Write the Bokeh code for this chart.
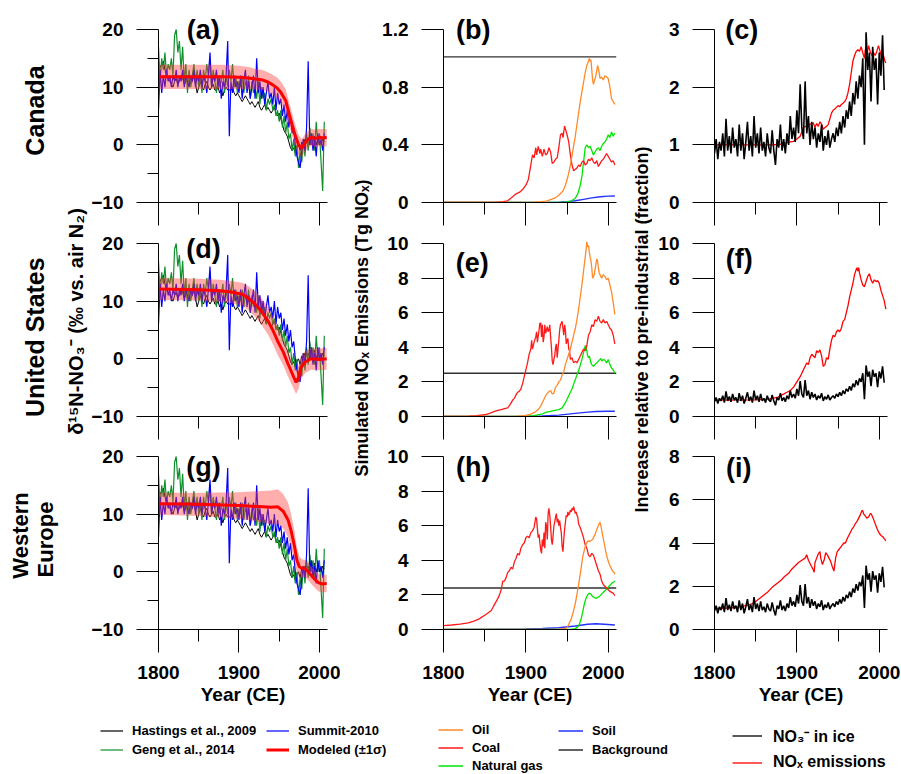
from bokeh.plotting import figure
from bokeh.layouts import row, column
from bokeh.models import Range1d, FixedTicker, Label, Legend, LegendItem, CustomJSTickFormatter
from bokeh.embed import file_html
from bokeh.resources import INLINE

FONT = "Liberation Sans"

# ---------------- data ----------------
ice_years = list(range(1800, 2008, 2))
hastings = [12.5, 13.5, 14.0, 14.5, 13.0,
            12.0, 11.5, 11.0, 10.5, 10.0,
            11.0, 11.5, 10.5, 11.0, 12.0,
            11.5, 10.5, 11.0, 12.0, 11.0,
            10.5, 11.0, 12.0, 10.5, 9.0,
            10.0, 11.0, 10.0, 9.5, 10.5,
            11.0, 10.0, 9.5, 10.0, 10.5,
            9.5, 9.5, 10.0, 9.0, 9.5,
            8.5, 9.5, 10.0, 9.5, 9.5,
            9.5, 10.0, 9.0, 8.5, 9.0,
            8.5, 8.0, 7.5, 8.0, 8.5,
            8.0, 7.5, 7.0, 7.5, 7.0,
            6.5, 7.0, 7.5, 6.5, 6.0,
            6.5, 7.0, 6.0, 6.5, 6.0,
            5.5, 6.0, 6.5, 5.5, 5.0,
            5.5, 4.5, 3.5, 2.5, 2.0,
            1.5, 0.5, -0.5, -1.0, -0.5,
            -1.5, -0.5, 0.0, -1.0, 0.5,
            0.0, 1.0, 0.5, 1.0, 0.0,
            1.0, 0.5, 1.5, 0.0, 1.0,
            0.5, 0.0, 1.0, 0.5]
geng = [17, 11, 15, 13, 16,
        12, 14, 13, 15, 12,
        19, 20, 16, 18, 13,
        17, 11, 14, 9, 13,
        10, 12, 14, 11, 13,
        10, 12, 9, 13, 11,
        14, 12, 15, 10, 13,
        11, 9, 12, 10, 11,
        13, 9, 12, 10, 13,
        11, 14, 10, 12, 9,
        11, 10, 12, 9, 11,
        10, 12, 8, 11, 9,
        10, 8, 11, 7, 10,
        8, 9, 6, 8, 7,
        8, 6, 7, 5, 6,
        4, 6, 3, 5, 2,
        4, 1, 2, -1, 1,
        -2, 0, -4, -1, -3,
        1, -2, 2, -1, 3,
        0, 2, -1, 4, 0,
        2, -3, -8, 4]
summit = [6, 13, 9, 12, 10,
          13, 11, 12, 10, 12,
          11, 13, 10, 12, 11,
          13, 10, 12, 11, 10,
          12, 11, 13, 10, 12,
          11, 13, 10, 12, 11,
          9, 12, 16, 10, 12,
          11, 13, 10, 12, 8,
          11, 10, 12, 18, 1.5,
          11, 9, 12, 10, 11,
          9, 12, 8, 11, 13,
          9, 11, 8, 10, 12,
          8, 15, 9, 11, 8,
          10, 7, 9, 11, 8,
          9, 7, 10, 6, 9,
          7, 8, 5, 7, 4,
          6, 3, 5, 2, 3,
          0, -2, -3, -4, -1,
          1, -1, 3, 14.5, 0,
          2, -1, 1, -2, 2,
          0, 1, -1, 2]
no3_ice = [0.85, 1.1, 0.75, 1.05, 0.9,
           1.2, 0.8, 1.45, 0.9, 1.15,
           0.85, 1.3, 0.95, 1.1, 0.8,
           1.35, 0.9, 1.2, 0.75, 1.05,
           1.4, 0.9, 1.15, 0.8, 1.5,
           0.95, 1.2, 0.85, 1.3, 0.9,
           1.05, 0.8, 1.2, 0.95, 0.85,
           1.25, 0.9, 0.65, 1.1, 0.95,
           1.35, 0.9, 1.1, 0.85, 1.2,
           1.0, 1.5, 1.1, 1.3, 1.05,
           1.6, 1.2, 2.05, 1.3, 1.1,
           2.1, 1.2, 1.5, 1.0, 1.4,
           1.1, 1.3, 0.95, 1.2, 1.05,
           1.35, 0.9, 1.15, 1.0, 1.25,
           0.95, 1.1, 1.2, 1.05, 1.3,
           1.15, 1.4, 1.2, 1.5, 1.3,
           1.6, 1.45, 1.75, 1.5, 1.9,
           1.7, 2.1, 1.8, 2.2, 2.0,
           2.5, 1.0, 2.95, 2.3, 2.6,
           1.75, 2.7, 2.3, 2.5, 1.7,
           2.6, 2.2, 2.9, 1.95]

# modeled d15N (mean, 1 sigma)
can_mod_years = [1800, 1850, 1880, 1900, 1912, 1920, 1928, 1936, 1942, 1947, 1952, 1958, 1963, 1969, 1974, 1978, 1982, 1986, 1990, 1995, 2000, 2005, 2009]
can_mod_mean = [11.8, 11.8, 11.8, 11.7, 11.6, 11.4, 11.3, 10.9, 10.4, 9.9, 9.1, 7.7, 5.0, 2.0, 0.0, -0.6, 0.3, 1.0, 1.3, 1.1, 1.3, 1.2, 1.3]
can_mod_sigma = [2.1, 2.1, 2.1, 2.0, 1.9, 1.8, 1.7, 1.7, 1.7, 1.8, 1.9, 2.0, 2.0, 1.9, 1.7, 1.6, 1.5, 1.5, 1.5, 1.5, 1.5, 1.5, 1.5]
us_mod_years = [1800, 1850, 1876, 1890, 1904, 1912, 1920, 1928, 1936, 1942, 1948, 1955, 1961, 1966, 1971, 1974, 1977, 1982, 1989, 2000, 2009]
us_mod_mean = [12.1, 12.0, 11.8, 11.6, 11.2, 10.5, 9.5, 8.2, 6.6, 5.0, 3.1, 1.2, -0.9, -2.5, -4.1, -3.2, -1.5, -0.6, 0.0, -0.1, 0.0]
us_mod_sigma = [1.9, 1.9, 1.9, 1.9, 2.0, 2.1, 2.2, 2.3, 2.4, 2.4, 2.4, 2.3, 2.2, 2.1, 2.0, 2.0, 2.0, 1.9, 1.9, 1.9, 1.9]
eu_mod_years = [1800, 1850, 1900, 1940, 1948, 1955, 1961, 1965, 1969, 1972, 1975, 1978, 1981, 1985, 1991, 1995, 1999, 2004, 2009]
eu_mod_mean = [11.8, 11.7, 11.5, 11.2, 11.3, 10.5, 9.0, 7.0, 4.4, 2.0, 0.9, 0.6, 0.6, 0.2, -0.8, -1.4, -1.9, -2.1, -2.0]
eu_mod_sigma = [1.9, 2.0, 2.3, 2.9, 3.0, 3.0, 3.0, 2.9, 2.6, 2.2, 1.8, 1.6, 1.5, 1.5, 1.5, 1.5, 1.5, 1.5, 1.5]

# simulated NOx emissions (Tg NOx): (year, value)
can_oil = [(1800, 0), (1905, 0), (1915, 0.005), (1925, 0.01), (1935, 0.03), (1940, 0.05), (1945, 0.08), (1948, 0.12), (1951, 0.18), (1954, 0.26), (1957, 0.36), (1960, 0.46), (1963, 0.58), (1966, 0.7), (1969, 0.8), (1972, 0.9), (1974, 0.95), (1976, 0.98), (1977, 1.0), (1978, 0.98), (1979, 0.99), (1980, 0.92), (1981, 0.85), (1982, 0.82), (1983, 0.84), (1985, 0.88), (1987, 0.95), (1988, 0.93), (1989, 0.9), (1990, 0.86), (1992, 0.87), (1994, 0.85), (1996, 0.88), (1998, 0.87), (2000, 0.86), (2002, 0.8), (2004, 0.72), (2006, 0.7), (2008, 0.68)]
can_coal = [(1800, 0), (1860, 0), (1866, 0.003), (1872, 0.006), (1878, 0.012), (1884, 0.04), (1888, 0.06), (1892, 0.07), (1896, 0.09), (1900, 0.12), (1903, 0.16), (1906, 0.26), (1908, 0.33), (1910, 0.31), (1912, 0.38), (1913, 0.33), (1915, 0.39), (1917, 0.34), (1918, 0.37), (1920, 0.32), (1922, 0.37), (1924, 0.33), (1926, 0.34), (1928, 0.38), (1930, 0.35), (1932, 0.27), (1934, 0.28), (1936, 0.30), (1938, 0.31), (1940, 0.38), (1942, 0.47), (1944, 0.48), (1945, 0.45), (1947, 0.53), (1948, 0.51), (1950, 0.47), (1952, 0.42), (1954, 0.33), (1956, 0.26), (1958, 0.22), (1960, 0.23), (1962, 0.24), (1964, 0.26), (1966, 0.25), (1968, 0.28), (1970, 0.29), (1972, 0.26), (1974, 0.27), (1976, 0.30), (1978, 0.29), (1980, 0.31), (1982, 0.28), (1984, 0.27), (1986, 0.29), (1988, 0.25), (1990, 0.27), (1992, 0.29), (1994, 0.30), (1996, 0.32), (1998, 0.34), (2000, 0.32), (2002, 0.30), (2004, 0.28), (2006, 0.29), (2008, 0.26)]
can_gas = [(1800, 0), (1940, 0), (1950, 0.005), (1955, 0.01), (1960, 0.03), (1963, 0.06), (1966, 0.12), (1968, 0.18), (1970, 0.28), (1972, 0.38), (1974, 0.40), (1976, 0.38), (1978, 0.39), (1980, 0.36), (1982, 0.33), (1984, 0.35), (1986, 0.37), (1988, 0.38), (1990, 0.36), (1992, 0.39), (1994, 0.41), (1996, 0.42), (1998, 0.44), (2000, 0.47), (2002, 0.45), (2004, 0.49), (2006, 0.46), (2008, 0.48)]
can_soil = [(1800, 0), (1940, 0.002), (1950, 0.006), (1960, 0.012), (1970, 0.022), (1980, 0.032), (1990, 0.04), (2000, 0.044), (2008, 0.045)]
can_background = [(1800, 1.01), (2010, 1.01)]

us_oil = [(1800, 0), (1880, 0), (1890, 0.02), (1900, 0.06), (1905, 0.12), (1910, 0.22), (1915, 0.4), (1918, 0.6), (1921, 0.9), (1924, 1.2), (1927, 1.4), (1930, 1.5), (1932, 1.3), (1934, 1.35), (1936, 1.7), (1938, 1.8), (1940, 2.0), (1942, 2.1), (1944, 2.4), (1946, 2.6), (1948, 3.0), (1950, 3.3), (1952, 3.6), (1954, 3.9), (1956, 4.3), (1958, 4.7), (1960, 5.1), (1962, 5.6), (1964, 6.2), (1966, 6.9), (1968, 7.6), (1970, 8.4), (1972, 9.2), (1973, 9.6), (1974, 10.1), (1975, 9.8), (1976, 9.9), (1977, 9.5), (1978, 9.2), (1979, 9.0), (1980, 8.6), (1981, 8.0), (1982, 8.1), (1983, 8.2), (1984, 8.5), (1985, 8.8), (1986, 9.1), (1987, 9.0), (1988, 8.6), (1989, 8.3), (1990, 8.2), (1992, 8.0), (1994, 8.2), (1996, 8.1), (1998, 7.9), (2000, 8.0), (2002, 7.6), (2004, 7.2), (2006, 6.6), (2008, 5.9)]
us_coal = [(1800, 0), (1830, 0.02), (1840, 0.05), (1850, 0.1), (1856, 0.18), (1862, 0.3), (1866, 0.35), (1870, 0.4), (1874, 0.45), (1878, 0.5), (1881, 0.7), (1884, 0.95), (1886, 1.05), (1888, 1.25), (1890, 1.4), (1892, 1.45), (1894, 1.6), (1896, 1.9), (1898, 2.3), (1900, 2.7), (1902, 3.1), (1904, 3.6), (1906, 3.9), (1907, 4.4), (1908, 3.9), (1910, 4.3), (1912, 4.6), (1913, 4.9), (1914, 4.3), (1916, 5.0), (1917, 5.4), (1918, 5.4), (1919, 4.6), (1920, 5.3), (1921, 4.3), (1922, 4.6), (1923, 5.3), (1924, 4.8), (1926, 5.2), (1927, 4.9), (1928, 5.0), (1929, 5.3), (1930, 4.6), (1931, 4.0), (1932, 3.2), (1933, 3.0), (1934, 3.3), (1935, 3.5), (1936, 4.0), (1937, 4.2), (1938, 3.4), (1939, 3.9), (1940, 4.4), (1941, 5.0), (1942, 5.3), (1943, 5.4), (1944, 5.5), (1945, 5.1), (1946, 4.7), (1947, 5.3), (1948, 5.0), (1949, 4.2), (1950, 4.4), (1951, 4.5), (1952, 3.9), (1953, 3.8), (1954, 3.3), (1956, 3.4), (1958, 3.1), (1960, 3.2), (1962, 3.1), (1964, 3.3), (1966, 3.5), (1968, 3.7), (1970, 3.9), (1972, 3.8), (1974, 4.1), (1976, 4.7), (1978, 4.9), (1980, 5.3), (1982, 5.2), (1984, 5.6), (1986, 5.5), (1988, 5.8), (1990, 5.5), (1992, 5.4), (1994, 5.6), (1996, 5.4), (1998, 5.5), (2000, 5.3), (2002, 5.1), (2004, 5.0), (2006, 4.7), (2008, 4.2)]
us_gas = [(1800, 0), (1900, 0), (1910, 0.05), (1920, 0.15), (1925, 0.25), (1930, 0.3), (1935, 0.35), (1940, 0.4), (1944, 0.5), (1948, 0.8), (1950, 1.0), (1953, 1.3), (1956, 1.6), (1959, 2.0), (1962, 2.4), (1965, 2.8), (1968, 3.3), (1970, 3.7), (1971, 3.9), (1972, 4.1), (1973, 4.0), (1974, 3.8), (1975, 3.5), (1976, 3.4), (1977, 3.5), (1978, 3.3), (1979, 3.1), (1980, 3.0), (1982, 2.9), (1984, 3.0), (1986, 3.1), (1988, 3.2), (1990, 3.3), (1991, 3.35), (1992, 3.2), (1994, 3.3), (1996, 3.25), (1998, 3.1), (2000, 3.3), (2002, 3.0), (2004, 2.8), (2006, 2.7), (2008, 2.5)]
us_soil = [(1800, 0), (1900, 0.01), (1920, 0.03), (1940, 0.08), (1960, 0.18), (1975, 0.25), (1985, 0.29), (2000, 0.3), (2008, 0.3)]
us_background = [(1800, 2.5), (2010, 2.5)]

eu_oil = [(1800, 0), (1930, 0), (1940, 0.02), (1946, 0.05), (1950, 0.1), (1955, 0.6), (1958, 1.1), (1960, 1.5), (1963, 2.3), (1966, 3.2), (1969, 4.2), (1972, 4.8), (1975, 5.1), (1978, 5.1), (1981, 5.2), (1984, 5.5), (1987, 5.9), (1990, 6.2), (1991, 6.0), (1993, 5.5), (1995, 5.0), (1997, 4.5), (1999, 4.1), (2001, 3.8), (2003, 3.6), (2005, 3.4), (2007, 3.3), (2008, 3.2)]
eu_coal = [(1800, 0.22), (1810, 0.26), (1820, 0.31), (1830, 0.38), (1837, 0.48), (1842, 0.58), (1846, 0.7), (1850, 0.82), (1854, 0.95), (1858, 1.1), (1862, 1.45), (1866, 1.8), (1868, 2.0), (1870, 2.3), (1872, 2.8), (1874, 2.8), (1876, 3.0), (1878, 3.3), (1880, 3.4), (1882, 3.6), (1884, 3.5), (1886, 3.9), (1888, 4.1), (1890, 4.4), (1892, 4.3), (1894, 4.7), (1896, 4.9), (1898, 5.0), (1900, 5.3), (1902, 5.4), (1904, 5.3), (1906, 5.6), (1908, 5.7), (1910, 5.9), (1912, 6.5), (1913, 6.4), (1914, 5.8), (1915, 5.3), (1916, 5.5), (1917, 5.0), (1918, 4.6), (1919, 4.4), (1920, 5.2), (1921, 4.8), (1922, 5.6), (1923, 4.7), (1924, 6.2), (1925, 6.0), (1926, 5.2), (1927, 6.7), (1928, 7.0), (1929, 6.6), (1930, 6.0), (1931, 5.2), (1932, 4.9), (1933, 5.4), (1934, 6.0), (1935, 6.2), (1936, 6.5), (1937, 6.7), (1938, 6.2), (1939, 6.4), (1940, 6.0), (1941, 6.3), (1942, 5.9), (1943, 5.6), (1944, 4.8), (1945, 4.5), (1946, 5.2), (1947, 5.8), (1948, 6.2), (1949, 6.6), (1950, 6.5), (1951, 6.8), (1952, 6.6), (1953, 6.7), (1954, 6.9), (1955, 6.8), (1956, 7.0), (1957, 6.9), (1958, 7.1), (1959, 6.9), (1960, 6.7), (1961, 6.8), (1962, 6.6), (1963, 6.5), (1964, 6.1), (1966, 5.9), (1968, 5.6), (1970, 5.3), (1972, 4.9), (1974, 4.7), (1976, 4.3), (1978, 4.2), (1980, 4.4), (1982, 4.3), (1984, 4.0), (1986, 3.7), (1988, 3.4), (1990, 3.2), (1992, 2.8), (1994, 2.6), (1996, 2.5), (1998, 2.4), (2000, 2.3), (2002, 2.2), (2004, 2.15), (2006, 2.1), (2008, 1.95)]
eu_gas = [(1800, 0), (1950, 0), (1956, 0.02), (1960, 0.05), (1963, 0.15), (1965, 0.3), (1967, 0.6), (1969, 1.0), (1971, 1.5), (1973, 1.8), (1975, 2.0), (1977, 2.1), (1979, 2.05), (1981, 1.9), (1983, 1.85), (1985, 1.8), (1987, 1.85), (1989, 1.9), (1991, 2.0), (1993, 2.1), (1995, 2.2), (1997, 2.3), (1999, 2.4), (2001, 2.5), (2003, 2.6), (2005, 2.7), (2007, 2.75), (2008, 2.8)]
eu_soil = [(1800, 0), (1900, 0.03), (1920, 0.06), (1940, 0.1), (1960, 0.2), (1975, 0.3), (1985, 0.33), (1995, 0.3), (2008, 0.26)]
eu_background = [(1800, 2.4), (2010, 2.4)]

# NOx emissions relative to pre-industrial
can_nox_ratio = [(1800, 1.0), (1860, 1.0), (1870, 1.0), (1880, 1.01), (1886, 1.03), (1892, 1.05), (1896, 1.06), (1900, 1.1), (1904, 1.15), (1908, 1.3), (1912, 1.33), (1916, 1.36), (1920, 1.38), (1922, 1.3), (1924, 1.37), (1926, 1.32), (1928, 1.4), (1930, 1.36), (1932, 1.27), (1934, 1.3), (1936, 1.32), (1938, 1.35), (1940, 1.45), (1942, 1.55), (1944, 1.6), (1946, 1.62), (1948, 1.65), (1950, 1.68), (1952, 1.66), (1954, 1.7), (1956, 1.72), (1958, 1.75), (1960, 1.8), (1962, 1.9), (1964, 2.05), (1966, 2.25), (1968, 2.45), (1970, 2.55), (1972, 2.62), (1974, 2.65), (1976, 2.62), (1978, 2.7), (1980, 2.6), (1982, 2.5), (1983, 2.65), (1985, 2.55), (1987, 2.72), (1989, 2.62), (1991, 2.55), (1993, 2.6), (1995, 2.55), (1997, 2.62), (1999, 2.72), (2001, 2.62), (2003, 2.5), (2005, 2.55), (2007, 2.45), (2008, 2.42)]
us_nox_ratio = [(1800, 0.95), (1850, 0.96), (1866, 1.0), (1876, 1.1), (1882, 1.25), (1888, 1.4), (1892, 1.5), (1896, 1.7), (1900, 2.0), (1904, 2.3), (1908, 2.7), (1910, 2.9), (1912, 3.1), (1914, 3.0), (1916, 3.4), (1918, 3.6), (1920, 3.5), (1922, 3.4), (1924, 3.8), (1926, 3.7), (1928, 3.85), (1930, 3.5), (1932, 2.9), (1934, 3.0), (1936, 3.4), (1938, 3.3), (1940, 3.9), (1942, 4.4), (1944, 4.7), (1946, 4.6), (1948, 4.9), (1950, 5.0), (1952, 4.9), (1954, 5.1), (1956, 5.5), (1958, 5.6), (1960, 6.0), (1962, 6.4), (1964, 6.9), (1966, 7.3), (1968, 7.7), (1970, 8.2), (1972, 8.5), (1973, 8.6), (1974, 8.4), (1975, 8.6), (1976, 8.3), (1978, 7.9), (1980, 7.6), (1982, 7.5), (1984, 7.8), (1986, 8.1), (1988, 8.25), (1990, 7.9), (1992, 7.7), (1994, 7.9), (1996, 7.8), (1998, 7.85), (2000, 7.7), (2002, 7.3), (2004, 7.0), (2006, 6.7), (2008, 6.2)]
eu_nox_ratio = [(1800, 0.97), (1810, 0.98), (1820, 1.0), (1830, 1.05), (1840, 1.12), (1846, 1.2), (1850, 1.3), (1855, 1.45), (1860, 1.6), (1865, 1.75), (1870, 1.95), (1875, 2.1), (1880, 2.25), (1885, 2.45), (1890, 2.6), (1894, 2.8), (1898, 2.95), (1902, 3.1), (1906, 3.2), (1910, 3.3), (1912, 3.45), (1914, 3.2), (1916, 3.05), (1918, 2.9), (1920, 2.75), (1921, 2.65), (1922, 3.1), (1924, 3.3), (1926, 3.5), (1928, 3.6), (1929, 3.3), (1931, 3.0), (1933, 3.2), (1935, 3.55), (1937, 3.45), (1939, 3.3), (1941, 3.15), (1943, 2.9), (1945, 2.7), (1947, 3.3), (1949, 3.6), (1951, 3.7), (1953, 3.8), (1955, 3.9), (1957, 4.0), (1959, 4.0), (1961, 4.2), (1963, 4.35), (1965, 4.5), (1967, 4.65), (1969, 4.75), (1971, 4.9), (1973, 5.0), (1975, 5.15), (1977, 5.3), (1979, 5.5), (1980, 5.5), (1981, 5.35), (1983, 5.25), (1985, 5.15), (1987, 5.2), (1989, 5.35), (1990, 5.36), (1992, 5.2), (1994, 5.0), (1996, 4.8), (1998, 4.6), (2000, 4.45), (2002, 4.35), (2004, 4.3), (2006, 4.2), (2008, 4.1)]

row_labels = ["Canada", "United States", "Western", "Europe"]
panel_letters = ["(a)", "(b)", "(c)", "(d)", "(e)", "(f)", "(g)", "(h)", "(i)"]

# ---------------- styles ----------------
C_HAST = "#000000"
C_GENG = "#10902c"
C_SUMMIT = "#0000ff"
C_MOD = "#ff0000"
C_OIL = "#ff8a2a"
C_COAL = "#ff1a1a"
C_GAS = "#00e600"
C_SOIL = "#2233ff"
C_BG = "#303030"

DATA_H = 173  # pixel height of the data part of each panel


def xs(pts):
    return [t[0] for t in pts]


def ys(pts):
    return [t[1] for t in pts]


blank_fmt = CustomJSTickFormatter(code="return '';")


def make_panel(width, bl, br, rowspec, ylo, yhi, yticks, yminor, bottom_row, yfmt=None):
    h, bt, frame_h, bb = rowspec
    extra = (frame_h - DATA_H) * (yhi - ylo) / DATA_H
    p = figure(width=width, height=h, x_range=Range1d(1800, 2010), y_range=Range1d(ylo, yhi + extra),
               output_backend="svg", toolbar_location=None,
               min_border_left=bl, min_border_right=br, min_border_top=bt, min_border_bottom=bb)
    p.outline_line_color = None
    p.xgrid.visible = False
    p.ygrid.visible = False
    p.background_fill_color = "white"
    p.border_fill_color = "white"
    xa = p.xaxis[0]
    ya = p.yaxis[0]
    xa.ticker = FixedTicker(ticks=[1800, 1900, 2000], minor_ticks=[1850, 1950])
    ya.ticker = FixedTicker(ticks=yticks, minor_ticks=yminor)
    ya.bounds = (ylo, yhi)
    if yfmt is not None:
        ya.formatter = yfmt
    for ax in (xa, ya):
        ax.axis_line_color = "black"
        ax.axis_line_width = 1
        ax.major_tick_line_color = "black"
        ax.minor_tick_line_color = "black"
        ax.major_tick_in = 0
        ax.minor_tick_in = 0
        ax.major_label_text_font = FONT
        ax.major_label_text_font_style = "bold"
        ax.major_label_text_font_size = "19px"
        ax.major_label_text_color = "black"
    xa.major_tick_out = 23
    xa.minor_tick_out = 12
    ya.major_tick_out = 22
    ya.minor_tick_out = 11
    ya.major_label_standoff = 13
    if bottom_row:
        xa.major_label_standoff = 13
        xa.axis_label = "Year (CE)"
        xa.axis_label_text_font = FONT
        xa.axis_label_text_font_style = "bold"
        xa.axis_label_text_font_size = "19px"
        xa.axis_label_text_color = "black"
        xa.axis_label_standoff = 2
    else:
        xa.formatter = blank_fmt
        xa.major_label_text_font_size = "1px"
        xa.major_label_standoff = 0
    return p


def letter(p, text, x, y):
    p.add_layout(Label(x=x, y=y, text=text, text_font=FONT, text_font_style="bold",
                       text_font_size="27px", text_align="center", text_baseline="middle",
                       text_color="black"))


def blank(width, height):
    p = figure(width=width, height=height, x_range=Range1d(0, width), y_range=Range1d(height, 0),
               x_axis_location=None, y_axis_location=None, output_backend="svg",
               toolbar_location=None, min_border=0)
    p.outline_line_color = None
    p.xgrid.visible = False
    p.ygrid.visible = False
    p.background_fill_color = "white"
    p.border_fill_color = "white"
    return p


def vlabel(p, x, y, text, size):
    p.add_layout(Label(x=x, y=y, text=text, angle=90, angle_units="deg", text_font=FONT,
                       text_font_style="bold", text_font_size=size, text_align="center",
                       text_baseline="middle", text_color="black"))


def add_legend(p, entries, x, y, size, glyph_w, item_h, spacing, standoff):
    items = []
    for lab, color, lw in entries:
        r = p.line(x=[-50, -40], y=[-50, -50], line_color=color, line_width=lw)
        items.append(LegendItem(label=lab, renderers=[r]))
    lg = Legend(items=items, location=(x, y), orientation="vertical",
                label_text_font=FONT, label_text_font_style="bold", label_text_font_size=size,
                label_text_color="black", glyph_width=glyph_w, glyph_height=item_h,
                label_height=item_h, label_standoff=standoff, spacing=spacing,
                padding=0, margin=0, border_line_color=None, background_fill_alpha=0)
    p.add_layout(lg)


# ---------------- geometry (page pixels) ----------------
# (figure height, top border, frame height, bottom border)
ROWS = [(227, 13, 189, 25), (214, 0, 189, 25), (270, 0, 188, 82)]
COLS = [(252, 66, 13), (247, 66, 8), (249, 62, 14)]
PANEL_H = sum(r[0] for r in ROWS)
STRIP_H = 63

frac_fmt = CustomJSTickFormatter(code="return tick == 0 ? '0' : tick.toFixed(1);")

# ---------------- column 1: d15N ----------------
models = [(can_mod_years, can_mod_mean, can_mod_sigma),
          (us_mod_years, us_mod_mean, us_mod_sigma),
          (eu_mod_years, eu_mod_mean, eu_mod_sigma)]
letter_pos_1 = [(1855.5, 20.0), (1856, 19.1), (1856, 18.2)]
col1 = []
for i in range(3):
    w, bl, br = COLS[0]
    p = make_panel(w, bl, br, ROWS[i], -10, 20, [-10, 0, 10, 20], [-5, 5, 15], i == 2)
    p.line(ice_years, hastings, line_color=C_HAST, line_width=1)
    p.line(ice_years, geng, line_color=C_GENG, line_width=1.2)
    p.line(ice_years, summit, line_color=C_SUMMIT, line_width=1.2)
    yrs, mean, sig = models[i]
    lo = [m - s for m, s in zip(mean, sig)]
    hi = [m + s for m, s in zip(mean, sig)]
    p.varea(x=yrs, y1=lo, y2=hi, fill_color="#ff3b3b", fill_alpha=0.42)
    p.line(yrs, mean, line_color=C_MOD, line_width=3)
    letter(p, panel_letters[i * 3], *letter_pos_1[i])
    col1.append(p)

# ---------------- column 2: emissions ----------------
emis = [(can_oil, can_coal, can_gas, can_soil, can_background),
        (us_oil, us_coal, us_gas, us_soil, us_background),
        (eu_oil, eu_coal, eu_gas, eu_soil, eu_background)]
yspecs2 = [(0, 1.2, [0, 0.4, 0.8, 1.2], frac_fmt), (0, 10, [0, 2, 4, 6, 8, 10], None), (0, 10, [0, 2, 4, 6, 8, 10], None)]
letter_pos_2 = [(1836, 1.2), (1835, 8.9), (1836, 9.4)]
col2 = []
for i in range(3):
    w, bl, br = COLS[1]
    ylo, yhi, ticks, fmt = yspecs2[i]
    p = make_panel(w, bl, br, ROWS[i], ylo, yhi, ticks, [], i == 2, fmt)
    oil, coal, gas, soil, bg = emis[i]
    p.line(xs(bg), ys(bg), line_color=C_BG, line_width=1.3)
    p.line(xs(soil), ys(soil), line_color=C_SOIL, line_width=1.4)
    p.line(xs(gas), ys(gas), line_color=C_GAS, line_width=1.3)
    p.line(xs(coal), ys(coal), line_color=C_COAL, line_width=1.3)
    p.line(xs(oil), ys(oil), line_color=C_OIL, line_width=1.3)
    letter(p, panel_letters[i * 3 + 1], *letter_pos_2[i])
    col2.append(p)

# ---------------- column 3: relative increase ----------------
ratios = [can_nox_ratio, us_nox_ratio, eu_nox_ratio]
yspecs3 = [(0, 3, [0, 1, 2, 3]), (0, 10, [0, 2, 4, 6, 8, 10]), (0, 8, [0, 2, 4, 6, 8])]
letter_pos_3 = [(1833, 3.0), (1830, 9.1), (1829.5, 7.47)]
col3 = []
for i in range(3):
    w, bl, br = COLS[2]
    ylo, yhi, ticks = yspecs3[i]
    p = make_panel(w, bl, br, ROWS[i], ylo, yhi, ticks, [], i == 2)
    p.line(xs(ratios[i]), ys(ratios[i]), line_color="#ff0000", line_width=1.3)
    p.line(ice_years, no3_ice, line_color="black", line_width=1.6)
    letter(p, panel_letters[i * 3 + 2], *letter_pos_3[i])
    col3.append(p)

# ---------------- side labels ----------------
left = blank(88, PANEL_H)
vlabel(left, 34, 110, row_labels[0], "25px")
vlabel(left, 34, 336.7, row_labels[1], "25px")
vlabel(left, 20.3, 535, row_labels[2], "22px")
vlabel(left, 45, 539, row_labels[3], "22px")
vlabel(left, 75, 321, "δ¹⁵N-NO₃⁻ (‰ vs. air N₂)", "20px")

mid = blank(37, PANEL_H)
vlabel(mid, 21, 327.5, "Simulated NOₓ Emissions (Tg NOₓ)", "18px")

right = blank(28, PANEL_H)
vlabel(right, 17, 329, "Increase relative to pre-industrial (fraction)", "18px")

# ---------------- legend strip (page y 711..774) ----------------
strip = figure(width=901, height=STRIP_H, x_range=Range1d(0, 1), y_range=Range1d(0, 1),
               x_axis_location=None, y_axis_location=None, output_backend="svg",
               toolbar_location=None, min_border=0)
strip.outline_line_color = None
strip.xgrid.visible = False
strip.ygrid.visible = False
add_legend(strip, [("Hastings et al., 2009", C_HAST, 1.2), ("Geng et al., 2014", C_GENG, 1.2)],
           100, 17, "13px", 23, 15, 4, 9)
add_legend(strip, [("Summit-2010", C_SUMMIT, 1.2), ("Modeled (±1σ)", C_MOD, 3)],
           266, 17, "13px", 23, 15, 4, 9)
add_legend(strip, [("Oil", C_OIL, 1.5), ("Coal", C_COAL, 1.5), ("Natural gas", C_GAS, 1.5)],
           438, 1, "13px", 25, 15, 3, 9)
add_legend(strip, [("Soil", C_SOIL, 1.5), ("Background", C_BG, 1.5)],
           558, 17, "13px", 25, 15, 4, 9)
add_legend(strip, [("NO₃⁻ in ice", "black", 1.3), ("NOₓ emissions", "#ff0000", 1.3)],
           732, 2.5, "16px", 30, 19, 6, 11)

layout = column(row(left, column(*col1), mid, column(*col2), right, column(*col3)), strip)

open("out.html", "w").write(file_html(layout, INLINE))
